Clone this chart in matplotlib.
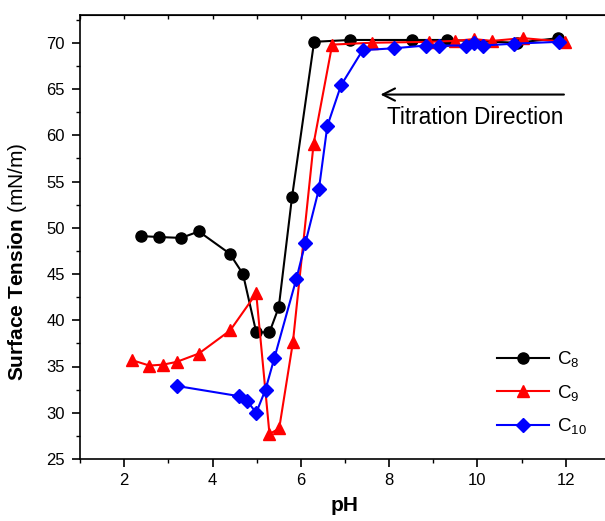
import matplotlib
matplotlib.use('Agg')
import matplotlib.pyplot as plt
from matplotlib.ticker import MultipleLocator

plt.rcParams['font.family'] = ['Liberation Sans', 'DejaVu Sans']
plt.rcParams['mathtext.fontset'] = 'custom'
plt.rcParams['mathtext.rm'] = 'Liberation Sans'
plt.rcParams['mathtext.it'] = 'Liberation Sans'
plt.rcParams['mathtext.bf'] = 'Liberation Sans:bold'

# C8
ph_c8 = [2.38, 2.78, 3.29, 3.69, 4.39, 4.69, 4.99, 5.29, 5.50, 5.80, 6.30, 7.11, 8.51, 9.32, 10.9, 11.83]
st_c8 = [49.1, 49.0, 48.9, 49.6, 47.2, 45.0, 38.7, 38.7, 41.4, 53.3, 70.1, 70.3, 70.3, 70.3, 70.0, 70.5]

# C9
ph_c9 = [2.17, 2.57, 2.88, 3.19, 3.69, 4.40, 4.99, 5.29, 5.51, 5.82, 6.29, 6.71, 7.61, 8.90, 9.50, 9.92, 10.33, 11.03, 11.98]
st_c9 = [35.7, 35.1, 35.2, 35.5, 36.4, 38.9, 42.9, 27.7, 28.3, 37.6, 59.1, 69.8, 70.0, 70.1, 70.2, 70.4, 70.2, 70.5, 70.1]

# C10
ph_c10 = [3.19, 4.59, 4.78, 4.99, 5.20, 5.40, 5.90, 6.10, 6.41, 6.60, 6.91, 7.40, 8.10, 8.83, 9.12, 9.73, 9.92, 10.12, 10.82, 11.84]
st_c10 = [32.9, 31.8, 31.3, 30.0, 32.5, 35.9, 44.5, 48.3, 54.2, 61.0, 65.4, 69.2, 69.4, 69.7, 69.7, 69.7, 70.0, 69.7, 69.9, 70.1]

fig = plt.figure(figsize=(6.05, 5.21), dpi=100)
ax = fig.add_axes([80 / 605, 62 / 521, 530 / 605, 444 / 521])

ax.plot(ph_c8, st_c8, '-o', color='black', lw=1.5, ms=8, label='C$_{8}$')
ax.plot(ph_c9, st_c9, '-^', color='red', mec='red', lw=1.5, ms=9, label='C$_{9}$')
ax.plot(ph_c10, st_c10, '-D', color='blue', mec='blue', lw=1.5, ms=7, label='C$_{10}$')

ax.set_xlim(1, 13)
ax.set_ylim(25, 73)
ax.xaxis.set_major_locator(MultipleLocator(2))
ax.xaxis.set_minor_locator(MultipleLocator(1))
ax.yaxis.set_major_locator(MultipleLocator(5))
ax.yaxis.set_minor_locator(MultipleLocator(2.5))
ax.tick_params(which='major', direction='out', length=6, width=1.2, labelsize=12, pad=4)
ax.tick_params(which='minor', direction='out', length=3, width=1.0)
ax.tick_params(axis='y', which='major', pad=5)
for s in ax.spines.values():
    s.set_linewidth(1.2)

# little inward ticks on the top frame
top = ax.secondary_xaxis('top')
top.xaxis.set_major_locator(MultipleLocator(1))
top.tick_params(direction='in', length=3, width=1.0, labeltop=False)

ax.set_xlabel('pH', fontsize=15, fontweight='bold')
ax.set_ylabel(r'$\mathbf{Surface\ Tension}$ (mN/m)', fontsize=15)
ax.xaxis.set_label_coords(0.5, -0.083)
ax.yaxis.set_label_coords(-0.097, 0.444)

ax.annotate('', xy=(7.74, 64.4), xytext=(12.02, 64.4),
            arrowprops=dict(arrowstyle='->', lw=1.5, color='black', mutation_scale=22))
ax.text(7.94, 61.9, 'Titration Direction', fontsize=16.3, ha='left', va='center')

ax.legend(loc='upper left', bbox_to_anchor=(0.787, 0.247), frameon=False, fontsize=13.5,
          handlelength=2.75, handletextpad=0.42, labelspacing=0.72,
          borderpad=0, borderaxespad=0)

fig.savefig('out.png', dpi=100)
